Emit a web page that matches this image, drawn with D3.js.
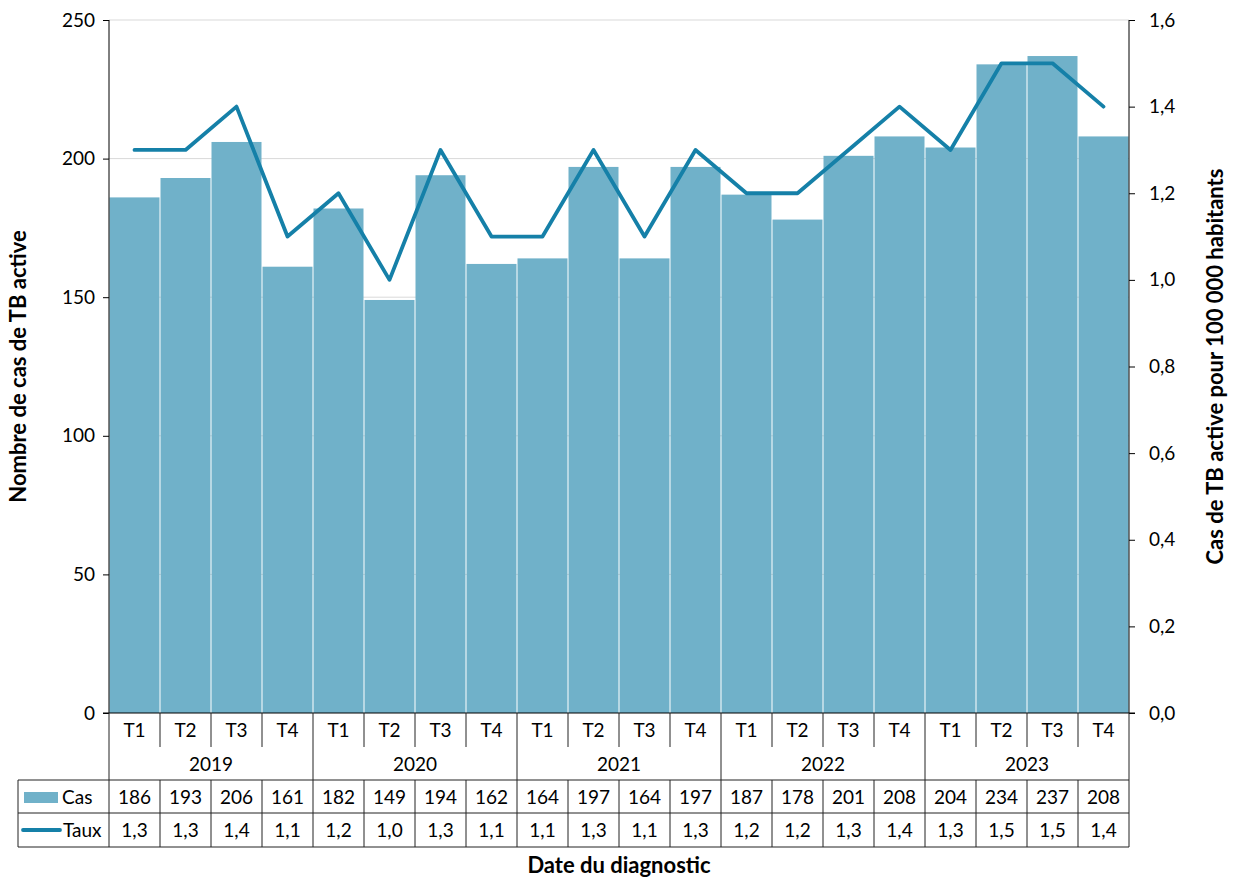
<!DOCTYPE html>
<html>
<head>
<meta charset="utf-8">
<script src="https://cdn.jsdelivr.net/npm/d3@7"></script>
<style>
  body { margin: 0; background: #fff; }
  text { font-family: Lato, "Open Sans", sans-serif; fill: #000; }
</style>
</head>
<body>
<div id="chart"></div>
<script>
// data
var years = ["2019", "2020", "2021", "2022", "2023"];
var quarters = ["T1", "T2", "T3", "T4"];
var cas = [186, 193, 206, 161, 182, 149, 194, 162, 164, 197, 164, 197, 187, 178, 201, 208, 204, 234, 237, 208];
var taux = [1.3, 1.3, 1.4, 1.1, 1.2, 1.0, 1.3, 1.1, 1.1, 1.3, 1.1, 1.3, 1.2, 1.2, 1.3, 1.4, 1.3, 1.5, 1.5, 1.4];
var leftTicks = [0, 50, 100, 150, 200, 250];
var rightTicks = [0, 0.2, 0.4, 0.6, 0.8, 1.0, 1.2, 1.4, 1.6];

(function() {
var W = 1234, H = 879;
var mLeft = 109, mRight = 1129, mTop = 20, mBottom = 713;
var barColor = "#70b1c9", lineColor = "#1580a8", gridColor = "#d9d9d9", tblColor = "#222";
var fs = "19px", tfs = "22px";

var keys = [];
years.forEach(function(y) { quarters.forEach(function(q) { keys.push(y + q); }); });

var svg = d3.select("#chart").append("svg").attr("width", W).attr("height", H);

var x = d3.scaleBand().domain(keys).range([mLeft, mRight]).padding(0);
var y = d3.scaleLinear().domain([0, 250]).range([mBottom, mTop]);
var y2 = d3.scaleLinear().domain([0, 1.6]).range([mBottom, mTop]);
var fmt = function(v) { return d3.format(".1f")(v).replace(".", ","); };

// gridlines
svg.append("g").selectAll("line").data(leftTicks.slice(1)).enter().append("line")
  .attr("x1", mLeft).attr("x2", mRight)
  .attr("y1", function(d) { return y(d); }).attr("y2", function(d) { return y(d); })
  .attr("stroke", gridColor).attr("stroke-width", 1);

// bars
svg.append("g").selectAll("rect").data(cas).enter().append("rect")
  .attr("x", function(d, i) { return x(keys[i]) + 0.5; })
  .attr("width", x.bandwidth() - 1)
  .attr("y", function(d) { return y(d); })
  .attr("height", function(d) { return mBottom - y(d); })
  .attr("fill", barColor);

// line
var line = d3.line()
  .x(function(d, i) { return x(keys[i]) + x.bandwidth() / 2; })
  .y(function(d) { return y2(d); });
svg.append("path").datum(taux).attr("d", line)
  .attr("fill", "none").attr("stroke", lineColor).attr("stroke-width", 3.8)
  .attr("stroke-linejoin", "round").attr("stroke-linecap", "round");

// axes
var gy = svg.append("g").attr("transform", "translate(" + mLeft + ",0)")
  .call(d3.axisLeft(y).tickValues(leftTicks).tickSize(6).tickPadding(8));
var gy2 = svg.append("g").attr("transform", "translate(" + mRight + ",0)")
  .call(d3.axisRight(y2).tickValues(rightTicks).tickFormat(fmt).tickSize(6).tickPadding(14));
[gy, gy2].forEach(function(g) {
  g.select(".domain").attr("stroke", "#000").attr("d", "M0," + mTop + "V" + mBottom);
  g.selectAll(".tick line").attr("stroke", "#000");
  g.selectAll("text").style("font-size", fs).attr("fill", "#000");
});
svg.append("line").attr("x1", mLeft - 6).attr("x2", mRight + 6).attr("y1", mBottom).attr("y2", mBottom).attr("stroke", "#000");

// axis titles
svg.append("text").attr("transform", "translate(26," + (mTop + mBottom) / 2 + ") rotate(-90)")
  .attr("text-anchor", "middle").style("font-size", tfs).style("font-weight", "bold")
  .text("Nombre de cas de TB active");
svg.append("text").attr("transform", "translate(1223," + (mTop + mBottom) / 2 + ") rotate(-90)")
  .attr("text-anchor", "middle").style("font-size", tfs).style("font-weight", "bold")
  .text("Cas de TB active pour 100 000 habitants");
svg.append("text").attr("x", (mLeft + mRight) / 2).attr("y", 873)
  .attr("text-anchor", "middle").style("font-size", tfs).style("font-weight", "bold")
  .text("Date du diagnostic");

// data table
var rowQ = 713, rowY = 747, rowC = 780, rowT = 813, rowEnd = 847, legLeft = 18;
var tbl = svg.append("g");
function ln(x1, y1, x2, y2) {
  tbl.append("line").attr("x1", x1).attr("y1", y1).attr("x2", x2).attr("y2", y2)
    .attr("stroke", tblColor).attr("stroke-width", 1);
}
keys.forEach(function(k, i) {
  var xi = x(k);
  if (i % 4 === 0) ln(xi, rowQ, xi, rowEnd);
  else { ln(xi, rowQ, xi, rowY); ln(xi, rowC, xi, rowEnd); }
});
ln(mRight, rowQ, mRight, rowEnd);
ln(legLeft, rowC, mRight, rowC);
ln(legLeft, rowT, mRight, rowT);
ln(legLeft, rowEnd, mRight, rowEnd);
ln(legLeft, rowC, legLeft, rowEnd);

var cx = function(i) { return x(keys[i]) + x.bandwidth() / 2; };
tbl.selectAll(".q").data(keys).enter().append("text")
  .attr("x", function(d, i) { return cx(i); }).attr("y", (rowQ + rowY) / 2 + 7)
  .attr("text-anchor", "middle").style("font-size", fs)
  .text(function(d, i) { return quarters[i % 4]; });
tbl.selectAll(".yr").data(years).enter().append("text")
  .attr("x", function(d, i) { return x(keys[i * 4]) + x.bandwidth() * 2; }).attr("y", (rowY + rowC) / 2 + 7)
  .attr("text-anchor", "middle").style("font-size", fs)
  .text(function(d) { return d; });
tbl.selectAll(".c").data(cas).enter().append("text")
  .attr("x", function(d, i) { return cx(i); }).attr("y", (rowC + rowT) / 2 + 7)
  .attr("text-anchor", "middle").style("font-size", fs)
  .text(function(d) { return d; });
tbl.selectAll(".t").data(taux).enter().append("text")
  .attr("x", function(d, i) { return cx(i); }).attr("y", (rowT + rowEnd) / 2 + 7)
  .attr("text-anchor", "middle").style("font-size", fs)
  .text(function(d) { return fmt(d); });

// legend in table
tbl.append("rect").attr("x", 24).attr("y", 792).attr("width", 34).attr("height", 11).attr("fill", barColor);
tbl.append("text").attr("x", 62).attr("y", (rowC + rowT) / 2 + 7).style("font-size", fs).text("Cas");
tbl.append("line").attr("x1", 23).attr("x2", 60).attr("y1", 830).attr("y2", 830)
  .attr("stroke", lineColor).attr("stroke-width", 3.8).attr("stroke-linecap", "round");
tbl.append("text").attr("x", 63).attr("y", (rowT + rowEnd) / 2 + 7).style("font-size", fs).text("Taux");
})();
</script>
</body>
</html>
